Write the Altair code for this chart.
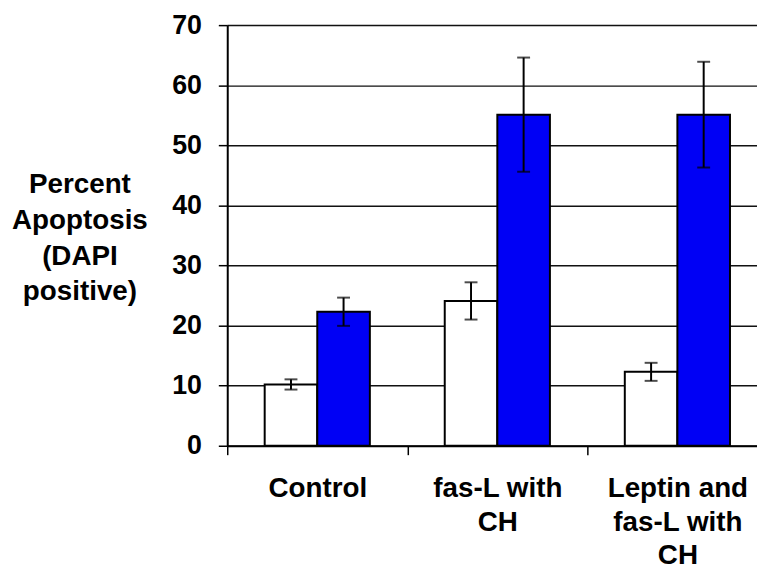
import altair as alt
import pandas as pd

categories = ["Control", "fas-L with|CH", "Leptin and|fas-L with|CH"]
series = ["Series 1", "Series 2"]
values_s1 = [10.2, 24.1, 12.3]
errors_s1 = [0.85, 3.1, 1.5]
values_s2 = [22.3, 55.1, 55.1]
errors_s2 = [2.35, 9.5, 8.8]
colors = ["#ffffff", "#0000f5"]

rows = []
for s, vals, errs in [(series[0], values_s1, errors_s1), (series[1], values_s2, errors_s2)]:
    for c, v, e in zip(categories, vals, errs):
        rows.append({"cat": c, "series": s, "value": v, "lo": v - e, "hi": v + e})
df = pd.DataFrame(rows)

FONT = "Liberation Sans"

xscale = alt.Scale(range=[0, 544.5], paddingInner=0, paddingOuter=0)
xenc = alt.X(
    "cat:N",
    sort=categories,
    scale=xscale,
    axis=alt.Axis(
        title=None,
        labelExpr="split(datum.label, '|')",
        labelAngle=0,
        labelFont=FONT,
        labelFontSize=28,
        labelFontWeight="bold",
        labelColor="black",
        labelBaseline="alphabetic",
        labelLineHeight=34,
        labelPadding=42,
        tickBand="extent",
        tickSize=9,
        tickColor="black",
        tickWidth=1.5,
        domainColor="black",
        domainWidth=2,
        grid=False,
    ),
)
xoff = alt.XOffset("series:N", sort=series, scale=alt.Scale(paddingInner=0, paddingOuter=0.712))

yscale = alt.Scale(domain=[0, 70], nice=False)
yaxis = alt.Axis(
    title=["Percent", "Apoptosis", "(DAPI", "positive)"],
    titleAngle=0,
    titleAlign="center",
    titleBaseline="alphabetic",
    titleX=-149,
    titleY=169,
    titleFont=FONT,
    titleFontSize=28,
    titleFontWeight="bold",
    titleColor="black",
    titleLineHeight=36,
    values=[0, 10, 20, 30, 40, 50, 60, 70],
    labelFont=FONT,
    labelFontSize=27,
    labelFontWeight="bold",
    labelColor="black",
    labelPadding=17,
    tickSize=9,
    tickColor="black",
    tickWidth=1.5,
    domainColor="black",
    domainWidth=2,
    grid=True,
    gridColor="#111111",
    gridWidth=1.5,
)

bars = alt.Chart(df).mark_bar(stroke="black", strokeWidth=2).encode(
    x=xenc,
    xOffset=xoff,
    y=alt.Y("value:Q", scale=yscale, axis=yaxis),
    fill=alt.Fill("series:N", scale=alt.Scale(domain=series, range=colors), legend=None),
)

rules = alt.Chart(df).mark_rule(color="black", strokeWidth=2).encode(
    x=alt.X("cat:N", sort=categories),
    xOffset=xoff,
    y=alt.Y("lo:Q", scale=yscale),
    y2="hi:Q",
)
tick_lo = alt.Chart(df).mark_tick(color="black", thickness=2, size=13).encode(
    x=alt.X("cat:N", sort=categories),
    xOffset=xoff,
    y=alt.Y("lo:Q", scale=yscale),
)
tick_hi = alt.Chart(df).mark_tick(color="black", thickness=2, size=13).encode(
    x=alt.X("cat:N", sort=categories),
    xOffset=xoff,
    y=alt.Y("hi:Q", scale=yscale),
)

chart = (
    alt.layer(bars, rules, tick_lo, tick_hi)
    .properties(
        width=534,
        height=424,
        autosize=alt.AutoSizeParams(type="none"),
        padding={"left": 221, "top": 15, "right": 0, "bottom": 123},
    )
    .configure_view(stroke=None)
    .configure(background="white")
)

chart.save("out.html", embed_options={"renderer": "svg", "actions": False})
